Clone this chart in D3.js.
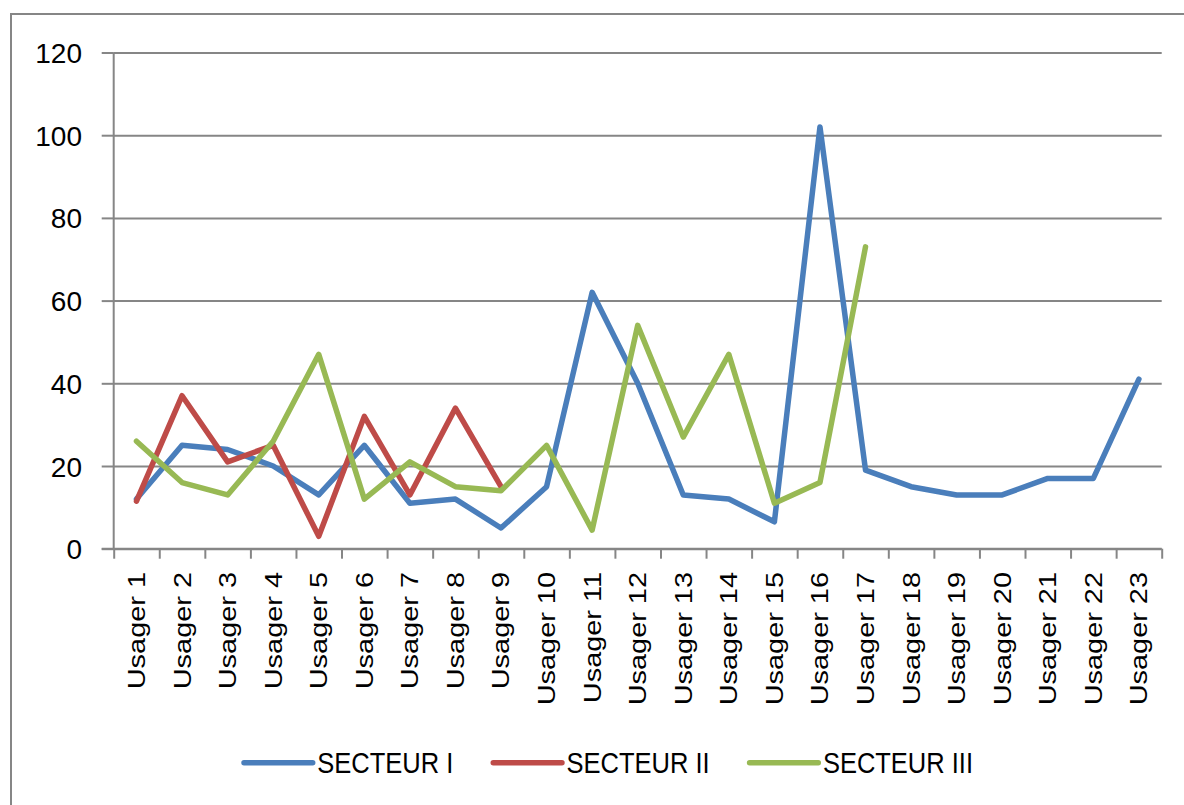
<!DOCTYPE html>
<html>
<head>
<meta charset="utf-8">
<script src="https://cdn.jsdelivr.net/npm/d3@7"></script>
<style>
  html, body { margin: 0; padding: 0; background: #fff; }
  svg { display: block; font-family: "Liberation Sans", Arial, sans-serif; }
</style>
</head>
<body>
<div id="chart"></div>
<script>
// categories
const usagers = d3.range(1, 24).map(i => "Usager " + i);

// series values
const secteur1 = [12, 25, 24, 20, 13, 25, 11, 12, 5, 15, 62, 40, 13, 12, 6.5, 102, 19, 15, 13, 13, 17, 17, 41];
const secteur2 = [11.5, 37, 21, 25, 3, 32, 13, 34, 15];
const secteur3 = [26, 16, 13, 26, 47, 12, 21, 15, 14, 25, 4.5, 54, 27, 47, 11, 16, 73];

const seriesNames = ["SECTEUR I", "SECTEUR II", "SECTEUR III"];
const seriesColors = ["#4a7ebb", "#be4b48", "#98b954"];
const yTicks = [0, 20, 40, 60, 80, 100, 120];

const width = 1184, height = 805;
const grey = "#868686";

const svg = d3.select("#chart").append("svg")
    .attr("width", width)
    .attr("height", height);

// outer chart border (cut by the picture on right and bottom)
svg.append("rect")
    .attr("x", 11).attr("y", 14)
    .attr("width", 1200).attr("height", 820)
    .attr("fill", "#fff")
    .attr("stroke", grey)
    .attr("stroke-width", 2);

const x = d3.scaleBand().domain(usagers).range([113.7, 1161.7]).padding(0);
const y = d3.scaleLinear().domain([0, 120]).range([548.7, 52.5]);
const cx = d => x(d) + x.bandwidth() / 2;

// gridlines
svg.append("g")
    .attr("transform", `translate(${x.range()[0]},0)`)
    .call(d3.axisLeft(y).tickValues(yTicks).tickSize(-(x.range()[1] - x.range()[0])).tickFormat(""))
    .call(g => g.select(".domain").remove())
    .call(g => g.selectAll("line").attr("stroke", grey).attr("stroke-width", 2));

// y axis
svg.append("g")
    .attr("transform", `translate(${x.range()[0]},0)`)
    .call(d3.axisLeft(y).tickValues(yTicks).tickSize(12).tickPadding(0).tickFormat(d => d))
    .call(g => g.select(".domain").attr("stroke", grey).attr("stroke-width", 2)
        .attr("d", `M0,${y(120)}V${y(0)}`))
    .call(g => g.selectAll("line").attr("stroke", grey).attr("stroke-width", 2))
    .call(g => g.selectAll("text")
        .attr("x", 82 - x.range()[0])
        .attr("dy", 10)
        .attr("text-anchor", "end")
        .attr("font-size", 28)
        .attr("font-family", "Liberation Sans, Arial, sans-serif")
        .attr("fill", "#000"));

// x axis: ticks between categories
const xEdge = d3.scaleLinear().domain([0, usagers.length]).range(x.range());
svg.append("g")
    .attr("transform", `translate(0,${y(0)})`)
    .call(d3.axisBottom(xEdge).tickValues(d3.range(0, usagers.length + 1)).tickSize(10).tickFormat(""))
    .call(g => g.select(".domain").attr("stroke", grey).attr("stroke-width", 2)
        .attr("d", `M${xEdge(0) - 12},0H${xEdge(usagers.length)}`))
    .call(g => g.selectAll("line").attr("stroke", grey).attr("stroke-width", 2));

// x labels, rotated
svg.append("g")
  .selectAll("text")
  .data(usagers)
  .join("text")
    .attr("transform", d => `translate(${cx(d)},572) rotate(-90) scale(1.23,1)`)
    .attr("text-anchor", "end")
    .attr("dy", "0.36em")
    .attr("font-size", 23.5)
    .attr("fill", "#000")
    .text(d => d);

// lines
const line = d3.line()
    .x((d, i) => cx(usagers[i]))
    .y(d => y(d));

svg.append("g")
    .attr("fill", "none")
    .attr("stroke-width", 5.5)
    .attr("stroke-linejoin", "round")
    .attr("stroke-linecap", "round")
  .selectAll("path")
  .data([secteur1, secteur2, secteur3])
  .join("path")
    .attr("stroke", (d, i) => seriesColors[i])
    .attr("d", line);

// legend
const legend = svg.append("g");
let lx = 244;
seriesNames.forEach((name, i) => {
  const g = legend.append("g").attr("transform", `translate(${lx},0)`);
  g.append("line")
      .attr("x1", 0).attr("x2", 68.7)
      .attr("y1", 762.7).attr("y2", 762.7)
      .attr("stroke", seriesColors[i])
      .attr("stroke-width", 5.5)
      .attr("stroke-linecap", "round");
  const t = g.append("text")
      .attr("transform", "translate(73.3,773.3) scale(0.85,1)")
      .attr("font-size", 30)
      .attr("fill", "#000")
      .text(name);
  lx += 73.3 + t.node().getComputedTextLength() * 0.85 + 40;
});
</script>
</body>
</html>
